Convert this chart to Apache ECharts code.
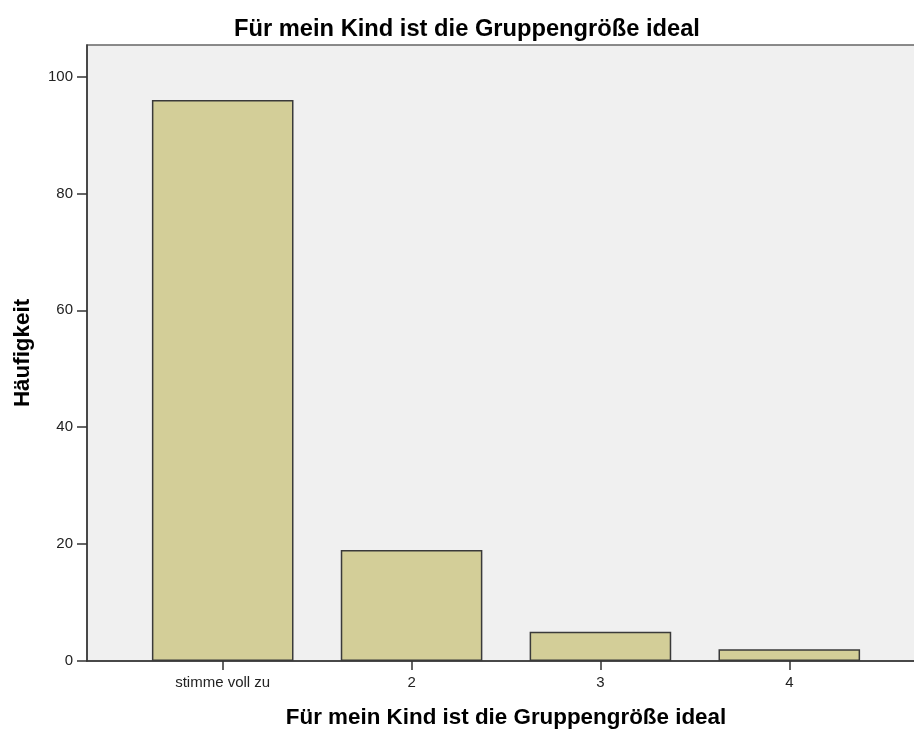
<!DOCTYPE html>
<html>
<head>
<meta charset="utf-8">
<script src="https://cdn.jsdelivr.net/npm/echarts@6/dist/echarts.min.js"></script>
<style>
  html, body { margin: 0; padding: 0; background: #fff; }
  #chart { width: 914px; height: 731px; }
</style>
</head>
<body>
<div id="chart"></div>
<script>
  // Antworten und Häufigkeiten
  const categories = ['stimme voll zu', '2', '3', '4']
  const counts = [96, 19, 5, 2]
  const yTicks = [0, 20, 40, 60, 80, 100]

  const font = "'Liberation Sans', Arial, sans-serif"
  const positions = categories.map((c, i) => i + 1)

  const chart = echarts.init(document.getElementById('chart'))

  const option = {
    animation: false,
    title: {
      text: 'Für mein Kind ist die Gruppengröße ideal',
      left: 462,
      textAlign: 'center',
      top: 12,
      textStyle: { fontFamily: font, fontSize: 23.7, fontWeight: 'bold', color: '#000' }
    },
    grid: {
      left: 87,
      right: -11,
      top: 45,
      bottom: 70,
      outerBoundsMode: 'none',
      containLabel: false,
      show: true,
      backgroundColor: '#f0f0f0',
      borderColor: '#666',
      borderWidth: 1.5
    },
    xAxis: {
      type: 'value',
      min: 0.2815,
      max: 4.7185,
      name: 'Für mein Kind ist die Gruppengröße ideal',
      nameLocation: 'middle',
      nameGap: 46,
      nameTextStyle: { fontFamily: font, fontSize: 22.4, fontWeight: 'bold', color: '#000' },
      axisLine: { show: true, lineStyle: { color: '#333', width: 1.5 } },
      axisTick: { show: true, customValues: positions, length: 9, lineStyle: { color: '#333', width: 1.5 } },
      axisLabel: {
        customValues: positions,
        formatter: v => categories[v - 1],
        margin: 14,
        fontFamily: font,
        fontSize: 15,
        color: '#222'
      },
      splitLine: { show: false }
    },
    yAxis: {
      type: 'value',
      min: 0,
      max: 105.4,
      name: 'Häufigkeit',
      nameLocation: 'middle',
      nameGap: 53,
      nameTextStyle: { fontFamily: font, fontSize: 22.4, fontWeight: 'bold', color: '#000' },
      axisLine: { show: true, lineStyle: { color: '#333', width: 1.5 } },
      axisTick: { show: true, customValues: yTicks, length: 10, lineStyle: { color: '#333', width: 1.5 } },
      axisLabel: {
        customValues: yTicks,
        margin: 14,
        fontFamily: font,
        fontSize: 15,
        color: '#222'
      },
      splitLine: { show: false }
    },
    series: [{
      type: 'bar',
      barWidth: 141.6,
      data: counts.map((v, i) => [positions[i], v]),
      itemStyle: { color: '#d3ce98', borderColor: '#3a3a3a', borderWidth: 1.5 }
    }]
  }

  chart.setOption(option)
</script>
</body>
</html>
